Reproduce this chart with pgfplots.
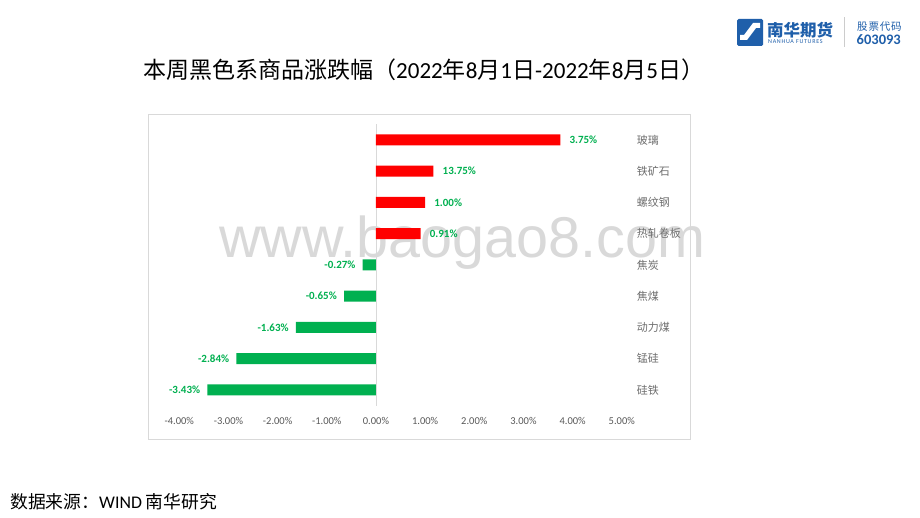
\documentclass[border=0pt]{standalone}
\usepackage{fontspec}
\setmainfont{Carlito}
\newfontfamily\cjk{Noto Sans CJK SC}
\newfontfamily\wm{Liberation Sans}
\usepackage{pgfplots}
\pgfplotsset{compat=1.18}
\pgfkeys{/pgf/number format/assume math mode=true}

\definecolor{upred}{HTML}{FF0000}
\definecolor{dngreen}{HTML}{00B050}
\definecolor{txtgray}{HTML}{595959}
\definecolor{catgray}{HTML}{6E6E6E}
\definecolor{boxgray}{HTML}{D9D9D9}
\definecolor{nhblue}{HTML}{1F5FAA}

\begin{document}
\begin{tikzpicture}[x=1pt,y=1pt]
\path[use as bounding box, fill=white] (0,0) rectangle (920,518);

% logo
\fill[nhblue, rounded corners=1.5pt] (737,472) rectangle (763,499);
\fill[white] (740,478) -- (747,478) -- (756,490) -- (760,490) -- (760,495) -- (753,495) -- (744,483) -- (740,483) -- cycle;
\node[anchor=west, inner sep=0pt, text=nhblue, font=\cjk\bfseries\fontsize{16.5}{16.5}\selectfont] at (767,488) {南华期货};
\node[anchor=west, inner sep=0pt, text=nhblue, font=\fontsize{6}{6}\selectfont] at (768,476) {\addfontfeatures{LetterSpace=12}NANHUA FUTURES};
\draw[black!20, line width=0.8pt] (844.3,471) -- (844.3,501);
\node[anchor=west, inner sep=0pt, text=nhblue, font=\cjk\fontsize{10.5}{10.5}\selectfont] at (857,491.5) {\addfontfeatures{LetterSpace=8}股票代码};
\node[anchor=west, inner sep=0pt, text=nhblue, font=\bfseries\fontsize{14.5}{14.5}\selectfont] at (856.5,478) {603093};

% title
\node[anchor=west, inner sep=0pt, font=\fontsize{23}{23}\selectfont] at (143,448.5)
  {{\cjk 本周黑色系商品涨跌幅（}2022{\cjk 年}8{\cjk 月}1{\cjk 日}-2022{\cjk 年}8{\cjk 月}5{\cjk 日）}};

% chart frame
\draw[boxgray, line width=1pt] (148.5,78) rectangle (690.5,403.7);

% watermark
\node[anchor=base west, inner sep=0pt, text=black!15, font=\wm\fontsize{57.5}{57.5}\selectfont] at (219,260) {www.baogao8.com};

\begin{axis}[
  at={(179.3pt,112.4pt)}, anchor=south west,
  scale only axis, width=442.5pt, height=281.25pt,
  xmin=-4, xmax=5, ymin=-0.5, ymax=8.5, y dir=reverse,
  enlargelimits=false, clip=false,
  axis line style={draw=none}, tick style={draw=none},
  xtick={-4,...,5},
  xticklabel={\pgfmathprintnumber[fixed,fixed zerofill,precision=2]{\tick}\%},
  xticklabel style={anchor=center, yshift=-15.4pt, text=txtgray, font=\fontsize{10.5}{10.5}\selectfont},
  ytick={0,...,8},
  yticklabels={玻璃,铁矿石,螺纹钢,热轧卷板,焦炭,焦煤,动力煤,锰硅,硅铁},
  yticklabel pos=right,
  yticklabel style={anchor=west, inner sep=0pt, xshift=10.5pt, text=catgray, font=\cjk\fontsize{11}{11}\selectfont},
  xbar, bar width=11pt, bar shift=0pt,
  point meta=explicit,
  nodes near coords={\pgfmathprintnumber[fixed,fixed zerofill,precision=2]{\pgfplotspointmeta}\%},
  every node near coord/.append style={font=\bfseries\fontsize{11}{11}\selectfont, text=dngreen, inner sep=0pt},
]
\draw[boxgray, line width=0.8pt] (axis cs:0,-0.5) -- (axis cs:0,8.5);

\addplot[fill=upred, draw=none, every node near coord/.append style={anchor=west, xshift=9pt}]
  table[x=v, y=i, meta=lab] {
i v lab
0 3.75 3.75
1 1.17 13.75
2 1.00 1.00
3 0.91 0.91
};

\addplot[fill=dngreen, draw=none, every node near coord/.append style={anchor=east, xshift=-7pt}]
  table[x=v, y=i, meta=lab] {
i v lab
4 -0.27 -0.27
5 -0.65 -0.65
6 -1.63 -1.63
7 -2.84 -2.84
8 -3.43 -3.43
};
\end{axis}

% footer
\node[anchor=west, inner sep=0pt, font=\fontsize{17.8}{17.8}\selectfont] at (10,16.5)
  {{\cjk 数据来源：}WIND {\cjk 南华研究}};
\end{tikzpicture}
\end{document}
